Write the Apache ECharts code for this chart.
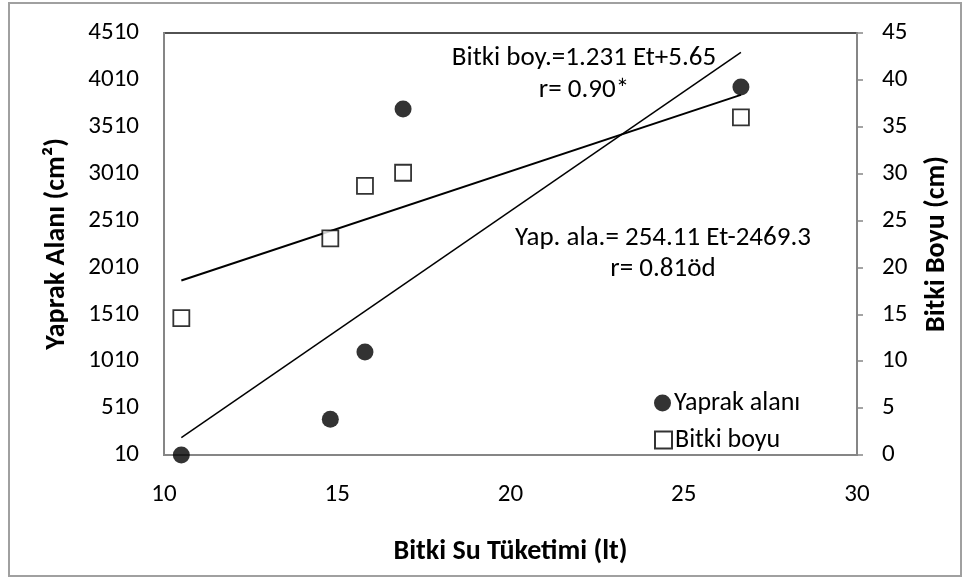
<!DOCTYPE html>
<html>
<head>
<meta charset="utf-8">
<script src="https://cdn.jsdelivr.net/npm/echarts@6/dist/echarts.min.js"></script>
<style>
html,body{margin:0;padding:0;background:#fff;}
#chart{width:965px;height:578px;}
</style>
</head>
<body>
<div id="chart"></div>
<script>
// Data
var xWater = [10.5, 14.8, 15.8, 16.9, 26.65];          // Bitki Su Tüketimi (lt)
var yaprakAlani = [10, 390, 1108, 3699, 3934];          // Yaprak alanı (cm²)
var bitkiBoyu = [14.6, 23.1, 28.7, 30.1, 36.0];         // Bitki boyu (cm)
var yapTrendX = [10.5, 26.65];
var yapTrendY = [195, 4303];
var boyTrendX = [10.5, 26.65];
var boyTrendY = [18.6, 38.4];
var leftTicks = [10, 510, 1010, 1510, 2010, 2510, 3010, 3510, 4010, 4510];
var rightTicks = [0, 5, 10, 15, 20, 25, 30, 35, 40, 45];
var xTicks = [10, 15, 20, 25, 30];
var seriesNames = ['Yaprak alanı', 'Bitki boyu'];
var axisTitles = { x: 'Bitki Su Tüketimi (lt)', yLeft: 'Yaprak Alanı (cm²)', yRight: 'Bitki Boyu (cm)' };
var annotations = ['Bitki boy.=1.231 Et+5.65', 'r= 0.90*', 'Yap. ala.= 254.11 Et-2469.3', 'r= 0.81öd'];

function pairs(xs, ys) { return xs.map(function (x, i) { return [x, ys[i]]; }); }
function plain(v) { return String(v); }

var FONT = "Carlito, Lato, 'Liberation Sans', Arial, sans-serif";
var chart = echarts.init(document.getElementById('chart'), null, { renderer: 'canvas' });
var axisGray = '#868686';
var TICK = 25, TITLE = 28, ANN = 27, LEG = 26;

chart.setOption({
  backgroundColor: '#fff',
  animation: false,
  textStyle: { fontFamily: FONT },
  grid: { left: 164, right: 108, top: 33, bottom: 123, show: true, borderColor: '#1a1a1a', borderWidth: 1.5, backgroundColor: 'transparent' },
  xAxis: {
    type: 'value', min: xTicks[0], max: xTicks[xTicks.length - 1], interval: 5,
    name: axisTitles.x, nameLocation: 'middle', nameGap: 83,
    nameTextStyle: { fontSize: TITLE, fontWeight: 'bold', color: '#000', fontFamily: FONT },
    axisLine: { show: true, lineStyle: { color: axisGray, width: 2 } },
    axisTick: { show: false },
    splitLine: { show: false },
    axisLabel: { fontSize: TICK, color: '#000', margin: 27, fontFamily: FONT, formatter: plain }
  },
  yAxis: [
    {
      type: 'value', min: leftTicks[0], max: leftTicks[leftTicks.length - 1], position: 'left',
      name: axisTitles.yLeft, nameLocation: 'middle', nameGap: 93, nameRotate: 90,
      nameTextStyle: { fontSize: TITLE, fontWeight: 'bold', color: '#000', fontFamily: FONT },
      axisLine: { show: true, lineStyle: { color: axisGray, width: 2 } },
      axisTick: { show: false },
      splitLine: { show: false },
      axisLabel: { fontSize: TICK, color: '#000', margin: 25, customValues: leftTicks, fontFamily: FONT, formatter: plain }
    },
    {
      type: 'value', min: rightTicks[0], max: rightTicks[rightTicks.length - 1], interval: 5, position: 'right',
      name: axisTitles.yRight, nameLocation: 'middle', nameGap: 66, nameRotate: 90,
      nameTextStyle: { fontSize: TITLE, fontWeight: 'bold', color: '#000', fontFamily: FONT },
      axisLine: { show: true, lineStyle: { color: axisGray, width: 2 } },
      axisTick: { show: true, inside: false, length: 6, lineStyle: { color: axisGray, width: 1.5 } },
      splitLine: { show: false },
      axisLabel: { fontSize: TICK, color: '#000', margin: 25, fontFamily: FONT, formatter: plain }
    }
  ],
  legend: [
    {
      left: 654, top: 390, itemWidth: 17, itemHeight: 17, padding: 0,
      textStyle: { fontSize: LEG, lineHeight: 26, color: '#000', fontFamily: FONT, padding: [0, 0, 0, -2] },
      data: [{ name: seriesNames[0], icon: 'circle' }]
    },
    {
      left: 654, top: 427, itemWidth: 17, itemHeight: 17, padding: 0,
      textStyle: { fontSize: LEG, lineHeight: 26, color: '#000', fontFamily: FONT, padding: [0, 0, 0, -2] },
      data: [{ name: seriesNames[1], icon: 'rect' }]
    }
  ],
  series: [
    {
      name: 'yapTrend', type: 'line', yAxisIndex: 0, data: pairs(yapTrendX, yapTrendY),
      showSymbol: false, silent: true, lineStyle: { color: '#000', width: 1.5 }, z: 1
    },
    {
      name: 'boyTrend', type: 'line', yAxisIndex: 1, data: pairs(boyTrendX, boyTrendY),
      showSymbol: false, silent: true, lineStyle: { color: '#000', width: 2 }, z: 1
    },
    {
      name: seriesNames[0], type: 'scatter', yAxisIndex: 0, data: pairs(xWater, yaprakAlani),
      symbol: 'circle', symbolSize: 17, itemStyle: { color: '#000' }, z: 3
    },
    {
      name: seriesNames[1], type: 'scatter', yAxisIndex: 1, data: pairs(xWater, bitkiBoyu),
      symbol: 'rect', symbolSize: 16, itemStyle: { color: '#fff', borderColor: '#000', borderWidth: 1.8 }, z: 3
    }
  ],
  graphic: [
    { type: 'rect', shape: { x: 9, y: 3, width: 952, height: 573 }, style: { fill: 'none', stroke: '#a0a0a0', lineWidth: 2 }, z: -10, silent: true },
    { type: 'text', x: 584, y: 58, style: { text: annotations[0], font: ANN + 'px ' + FONT, fill: '#000', textAlign: 'center', textVerticalAlign: 'middle' } },
    { type: 'text', x: 584, y: 90, style: { text: annotations[1], font: ANN + 'px ' + FONT, fill: '#000', textAlign: 'center', textVerticalAlign: 'middle' } },
    { type: 'text', x: 663, y: 238, style: { text: annotations[2], font: ANN + 'px ' + FONT, fill: '#000', textAlign: 'center', textVerticalAlign: 'middle' } },
    { type: 'text', x: 663, y: 269, style: { text: annotations[3], font: ANN + 'px ' + FONT, fill: '#000', textAlign: 'center', textVerticalAlign: 'middle' } }
  ]
});
</script>
</body>
</html>
